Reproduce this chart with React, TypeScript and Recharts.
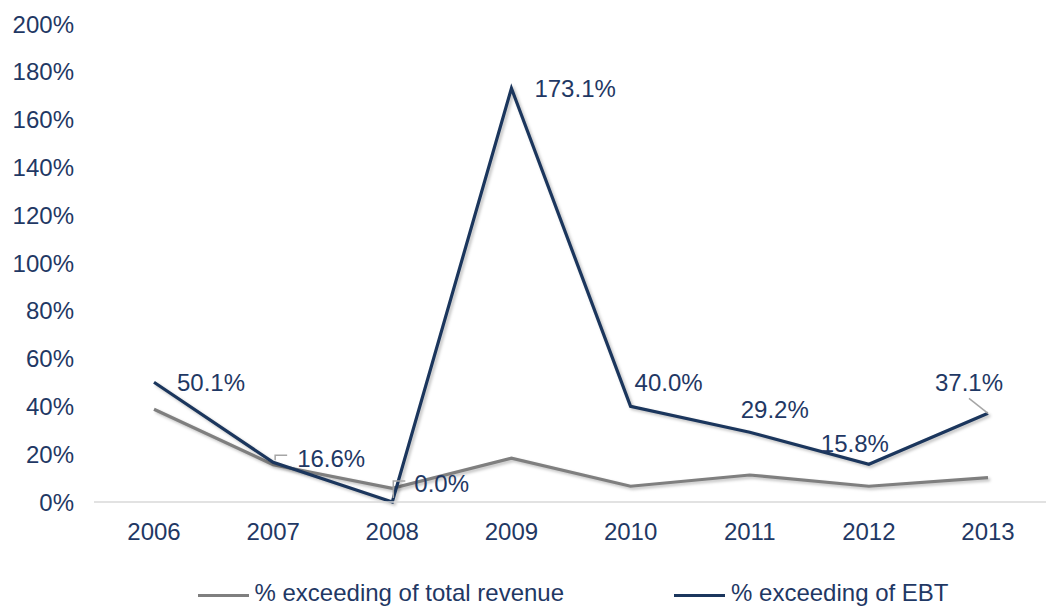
import React from 'react';
import { LineChart, Line, XAxis, YAxis, Legend, LabelList } from 'recharts';

const years = ['2006', '2007', '2008', '2009', '2010', '2011', '2012', '2013'];
const revenueExceeding = [38.8, 15.6, 5.7, 18.3, 6.6, 11.3, 6.6, 10.2];
const ebtExceeding = [50.1, 16.6, 0.0, 173.1, 40.0, 29.2, 15.8, 37.1];
const yTicks = [0, 20, 40, 60, 80, 100, 120, 140, 160, 180, 200];
const seriesNames = ['% exceeding of total revenue', '% exceeding of EBT'];

const data = years.map((year, i) => ({
  year,
  revenue: revenueExceeding[i],
  ebt: ebtExceeding[i],
}));

// label placement (text-left offset / vertical offset from point), and optional leader path
const labelPlacement: { dx: number; dy: number; leader?: (x: number, y: number) => string }[] = [
  { dx: 23, dy: 0 },
  { dx: 24, dy: -4, leader: (x, y) => `M${x + 2},${y - 2} V${y - 7} H${x + 14}` },
  { dx: 22, dy: -19, leader: (x, y) => `M${x + 1},${y - 4} V${y - 21} H${x + 13}` },
  { dx: 23, dy: 0 },
  { dx: 4, dy: -24 },
  { dx: -9, dy: -23 },
  { dx: -48, dy: -21 },
  { dx: -53, dy: -31, leader: (x, y) => `M${x},${y} L${x - 19},${y - 15}` },
];

const FONT = '"Liberation Sans", Arial, sans-serif';
const TEXT = '#1F3864';
const NAVY = '#1B365D';
const GRAY = '#7F7F7F';

const renderLabel = (props: any) => {
  const { x, y, value, index } = props;
  const p = labelPlacement[index] || { dx: 10, dy: 0 };
  return (
    <g>
      {p.leader && (
        <path d={p.leader(x, y)} stroke="#A6A6A6" strokeWidth={1.5} fill="none" />
      )}
      <text
        x={x + p.dx}
        y={y + p.dy}
        dy="0.36em"
        fill={TEXT}
        fontSize={24}
        fontFamily={FONT}
        textAnchor="start"
      >
        {`${Number(value).toFixed(1)}%`}
      </text>
    </g>
  );
};

const renderLegend = () => (
  <div
    style={{
      display: 'flex',
      justifyContent: 'center',
      alignItems: 'center',
      gap: 110,
      fontFamily: FONT,
      fontSize: 24,
      lineHeight: '30px',
      color: TEXT,
      whiteSpace: 'nowrap',
      paddingLeft: 4,
    }}
  >
    {[GRAY, NAVY].map((c, i) => (
      <div key={i} style={{ display: 'flex', alignItems: 'center' }}>
        <div style={{ width: 51, height: 3, background: c, marginRight: 6, position: 'relative', top: 2 }} />
        <span>{seriesNames[i]}</span>
      </div>
    ))}
  </div>
);

export default function App() {
  return (
    <div style={{ position: 'absolute', left: 0, top: 0, width: 1046, height: 607, overflow: 'hidden', background: '#fff' }}>
      <style>{'.recharts-line-curve{filter:drop-shadow(2px 2.5px 1.5px rgba(0,0,0,0.25));}'}</style>
      <LineChart
        width={1048}
        height={607}
        data={data}
        margin={{ top: 24, right: 0, bottom: 65, left: 0 }}
      >
        <XAxis
          dataKey="year"
          height={40}
          padding={{ left: 60, right: 60 }}
          tickLine={false}
          tickSize={0}
          tickMargin={21}
          axisLine={{ stroke: '#D9D9D9', strokeWidth: 1.5 }}
          tick={{ fill: TEXT, fontSize: 24, fontFamily: FONT }}
          interval={0}
        />
        <YAxis
          width={94}
          domain={[0, 200]}
          ticks={yTicks}
          tickFormatter={(v: number) => `${v}%`}
          axisLine={false}
          tickLine={false}
          tickSize={0}
          tickMargin={20}
          tick={{ fill: TEXT, fontSize: 24, fontFamily: FONT }}
          interval={0}
        />
        <Legend
          layout="horizontal"
          verticalAlign="middle"
          align="center"
          wrapperStyle={{ top: 578, left: 94, width: 954, height: 30 }}
          content={renderLegend}
        />
        <Line
          type="linear"
          dataKey="revenue"
          name={seriesNames[0]}
          stroke={GRAY}
          strokeWidth={3.2}
          dot={false}
          activeDot={false}
          isAnimationActive={false}
        />
        <Line
          type="linear"
          dataKey="ebt"
          name={seriesNames[1]}
          stroke={NAVY}
          strokeWidth={3.2}
          dot={false}
          activeDot={false}
          isAnimationActive={false}
        >
          <LabelList dataKey="ebt" content={renderLabel} />
        </Line>
      </LineChart>
    </div>
  );
}
